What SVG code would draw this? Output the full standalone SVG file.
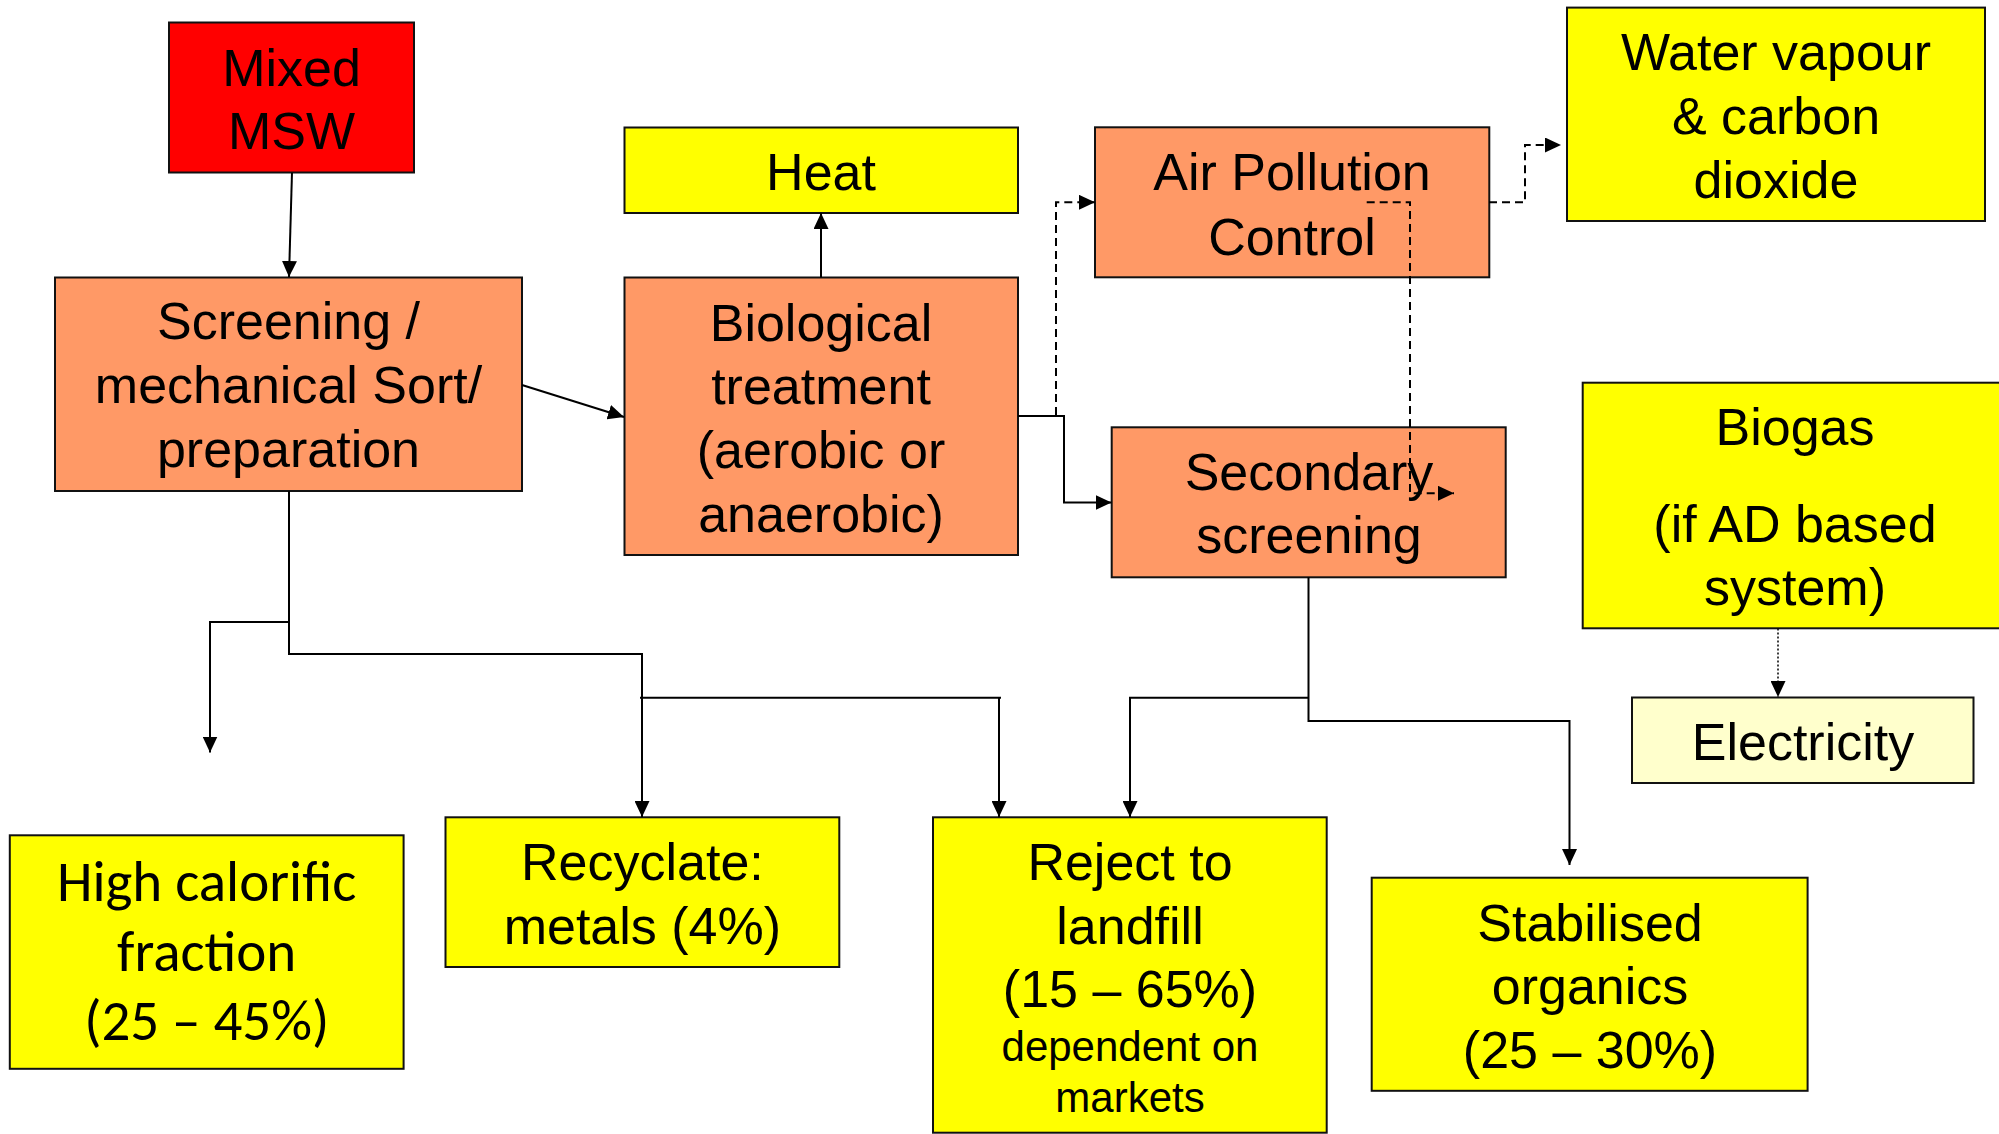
<svg xmlns="http://www.w3.org/2000/svg" width="1999" height="1134" viewBox="0 0 1999 1134">
<defs>
<style>
.box{stroke:#111;stroke-width:2}
.red{fill:#FF0000}
.org{fill:#FF9966}
.yel{fill:#FFFF00}
.pale{fill:#FFFFCC}
.t{font-family:"Liberation Sans",Arial,sans-serif;font-size:52px;fill:#000;text-anchor:middle}
.s{font-size:42px}
.c{font-family:Carlito,Calibri,Lato,sans-serif;font-size:57px}
.ln{fill:none;stroke:#000;stroke-width:2}
.dash{fill:none;stroke:#000;stroke-width:2;stroke-dasharray:8 5}
.dot{fill:none;stroke:#000;stroke-width:1.5;stroke-dasharray:2 2}
</style>
<marker id="ah" viewBox="0 0 16 15" refX="16" refY="7.5" markerWidth="16" markerHeight="15" markerUnits="userSpaceOnUse" orient="auto">
<path d="M0,0 L16,7.5 L0,15 Z" fill="#000"/>
</marker>
</defs>
<rect width="1999" height="1134" fill="#fff"/>

<g id="mixed-msw">
<rect class="box red" x="169" y="22.5" width="245" height="150"/>
<text class="t" x="291.5" y="86">Mixed</text>
<text class="t" x="291.5" y="149">MSW</text>
</g>

<g id="screening">
<rect class="box org" x="55" y="277.5" width="467" height="213.5"/>
<text class="t" x="288.5" y="339">Screening /</text>
<text class="t" x="288.5" y="403">mechanical Sort/</text>
<text class="t" x="288.5" y="467">preparation</text>
</g>

<g id="heat">
<rect class="box yel" x="624.5" y="127.5" width="393.5" height="85.5"/>
<text class="t" x="821" y="190">Heat</text>
</g>

<g id="biological">
<rect class="box org" x="624.5" y="277.5" width="393.5" height="277.5"/>
<text class="t" x="821" y="340.5">Biological</text>
<text class="t" x="821" y="404">treatment</text>
<text class="t" x="821" y="468">(aerobic or</text>
<text class="t" x="821" y="532">anaerobic)</text>
</g>

<g id="apc">
<rect class="box org" x="1095" y="127.3" width="394.3" height="150"/>
<text class="t" x="1292" y="190">Air Pollution</text>
<text class="t" x="1292" y="254.5">Control</text>
</g>

<g id="secondary">
<rect class="box org" x="1111.7" y="427.3" width="394" height="150"/>
<text class="t" x="1309" y="490">Secondary</text>
<text class="t" x="1309" y="553">screening</text>
</g>

<g id="water">
<rect class="box yel" x="1567" y="7.6" width="418" height="213.4"/>
<text class="t" x="1776" y="70">Water vapour</text>
<text class="t" x="1776" y="134">&amp; carbon</text>
<text class="t" x="1776" y="198">dioxide</text>
</g>

<g id="biogas">
<rect class="box yel" x="1582.7" y="382.7" width="425" height="245.6"/>
<text class="t" x="1795" y="445">Biogas</text>
<text class="t" x="1795" y="541.5">(if AD based</text>
<text class="t" x="1795" y="605">system)</text>
</g>

<g id="electricity">
<rect class="box pale" x="1632" y="697.5" width="341.5" height="85.5"/>
<text class="t" x="1803" y="760">Electricity</text>
</g>

<g id="high-calorific">
<rect class="box yel" x="9.8" y="835.3" width="393.8" height="233.5"/>
<text class="t c" x="206.7" y="900.5">High calorific</text>
<text class="t c" x="206.7" y="970.5">fraction</text>
<text class="t c" x="206.7" y="1039.5">(25 – 45%)</text>
</g>

<g id="recyclate">
<rect class="box yel" x="445.5" y="817.3" width="393.8" height="149.7"/>
<text class="t" x="642.4" y="880">Recyclate:</text>
<text class="t" x="642.4" y="943.6">metals (4%)</text>
</g>

<g id="reject">
<rect class="box yel" x="933" y="817.3" width="393.7" height="315.4"/>
<text class="t" x="1130" y="879.6">Reject to</text>
<text class="t" x="1130" y="943.6">landfill</text>
<text class="t" x="1130" y="1007.3">(15 – 65%)</text>
<text class="t s" x="1130" y="1061">dependent on</text>
<text class="t s" x="1130" y="1111.5">markets</text>
</g>

<g id="stabilised">
<rect class="box yel" x="1371.7" y="877.7" width="435.9" height="213.1"/>
<text class="t" x="1590" y="940.7">Stabilised</text>
<text class="t" x="1590" y="1003.7">organics</text>
<text class="t" x="1590" y="1068">(25 – 30%)</text>
</g>

<g id="connectors">
<path class="ln" d="M292,172.5 L289,277" marker-end="url(#ah)"/>
<path class="ln" d="M522,385 L624,417" marker-end="url(#ah)"/>
<path class="ln" d="M821,277.5 V213" marker-end="url(#ah)"/>
<path class="ln" d="M1018,416 H1064 V502.5 H1111.5" marker-end="url(#ah)"/>
<path class="dash" d="M1056,415 V202.3 H1095" marker-end="url(#ah)"/>
<path class="dash" d="M1489,202.3 H1525 V145 H1561" marker-end="url(#ah)"/>
<path class="dash" d="M1366.7,202.3 H1410 V493.3 H1454" marker-end="url(#ah)"/>
<path class="ln" d="M289,491 V654 H642 V817" marker-end="url(#ah)"/>
<path class="ln" d="M289,622 H210 V752.5" marker-end="url(#ah)"/>
<path class="ln" d="M640,697.7 H1001 M999,697.7 V817" marker-end="url(#ah)"/>
<path class="ln" d="M1308.5,577 V721 H1569.5 V865" marker-end="url(#ah)"/>
<path class="ln" d="M1308.5,697.7 H1130 V817" marker-end="url(#ah)"/>
<path class="dot" d="M1778,628.5 V697" marker-end="url(#ah)"/>
</g>
</svg>
